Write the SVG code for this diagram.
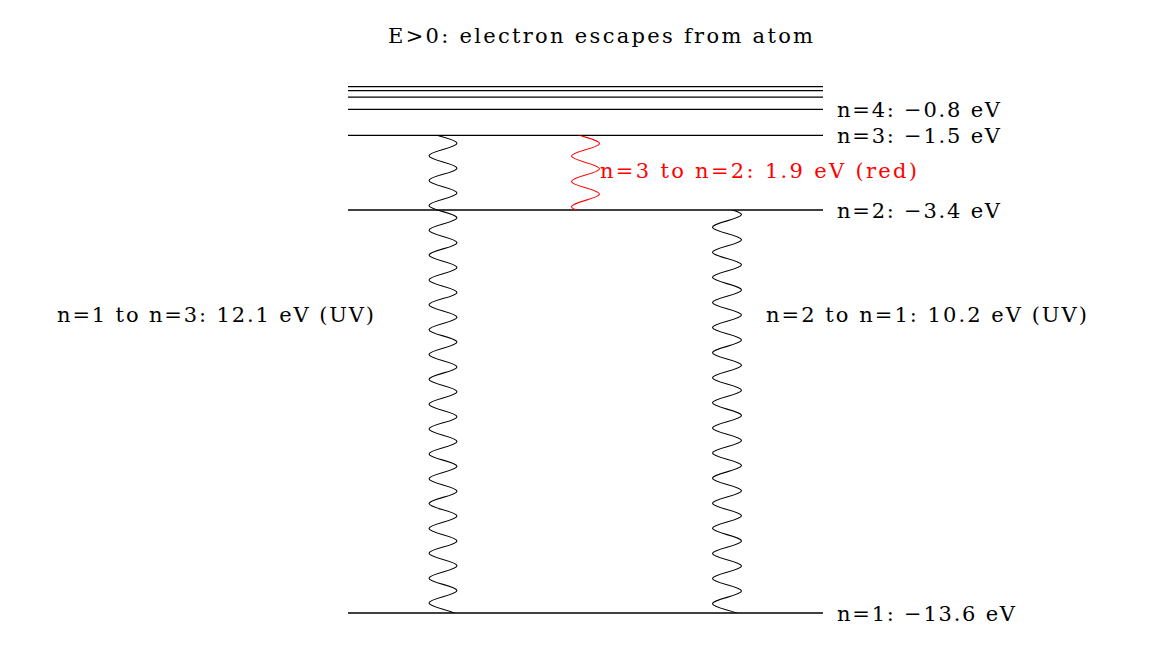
<svg xmlns="http://www.w3.org/2000/svg" width="1149" height="666" viewBox="0 0 1149 666">
<style>
.lvl{stroke:#000;stroke-width:1.3;fill:none}
.wave{fill:none;stroke-width:1.1}
text{font-family:"DejaVu Serif","Liberation Serif",serif;font-size:21px;fill:#000}
.red{fill:#ff0000}
</style>
<defs>
<clipPath id="c13"><rect x="0" y="135.4" width="1149" height="477.6"/></clipPath>
<clipPath id="c21"><rect x="0" y="210" width="1149" height="403"/></clipPath>
<clipPath id="c32"><rect x="0" y="135.4" width="1149" height="74.6"/></clipPath>
</defs>
<rect width="1149" height="666" fill="#fff"/>
<g id="title"><text x="388" y="43" textLength="425" lengthAdjust="spacing">E&gt;0: electron escapes from atom</text></g>
<g id="levels">
<line class="lvl" x1="348" y1="86.7" x2="823" y2="86.7"/>
<line class="lvl" x1="348" y1="90.7" x2="823" y2="90.7"/>
<line class="lvl" x1="348" y1="97.2" x2="823" y2="97.2"/>
</g>
<g id="n4"><line class="lvl" x1="348" y1="109.3" x2="823" y2="109.3"/><text x="837" y="117" textLength="163" lengthAdjust="spacing">n=4: −0.8 eV</text></g>
<g id="n3"><line class="lvl" x1="348" y1="135.4" x2="823" y2="135.4"/><text x="837" y="143" textLength="163" lengthAdjust="spacing">n=3: −1.5 eV</text></g>
<g id="n2"><line class="lvl" x1="348" y1="210" x2="823" y2="210"/><text x="837" y="218" textLength="163" lengthAdjust="spacing">n=2: −3.4 eV</text></g>
<g id="n1"><line class="lvl" x1="348" y1="613" x2="823" y2="613"/><text x="837" y="621" textLength="178" lengthAdjust="spacing">n=1: −13.6 eV</text></g>
<g id="connectors">
<g id="t13" clip-path="url(#c13)">
<path class="wave" stroke="#000" d="M443 112.22c18.667 5.273 18.667 7.152 0 12.425c-18.667 5.273-18.667 7.152 0 12.425c18.667 5.273 18.667 7.152 0 12.425c-18.667 5.273-18.667 7.152 0 12.425c18.667 5.273 18.667 7.152 0 12.425c-18.667 5.273-18.667 7.152 0 12.425c18.667 5.273 18.667 7.152 0 12.425c-18.667 5.273-18.667 7.152 0 12.425c18.667 5.273 18.667 7.152 0 12.425c-18.667 5.273-18.667 7.152 0 12.425c18.667 5.273 18.667 7.152 0 12.425c-18.667 5.273-18.667 7.152 0 12.425c18.667 5.273 18.667 7.152 0 12.425c-18.667 5.273-18.667 7.152 0 12.425c18.667 5.273 18.667 7.152 0 12.425c-18.667 5.273-18.667 7.152 0 12.425c18.667 5.273 18.667 7.152 0 12.425c-18.667 5.273-18.667 7.152 0 12.425c18.667 5.273 18.667 7.152 0 12.425c-18.667 5.273-18.667 7.152 0 12.425c18.667 5.273 18.667 7.152 0 12.425c-18.667 5.273-18.667 7.152 0 12.425c18.667 5.273 18.667 7.152 0 12.425c-18.667 5.273-18.667 7.152 0 12.425c18.667 5.273 18.667 7.152 0 12.425c-18.667 5.273-18.667 7.152 0 12.425c18.667 5.273 18.667 7.152 0 12.425c-18.667 5.273-18.667 7.152 0 12.425c18.667 5.273 18.667 7.152 0 12.425c-18.667 5.273-18.667 7.152 0 12.425c18.667 5.273 18.667 7.152 0 12.425c-18.667 5.273-18.667 7.152 0 12.425c18.667 5.273 18.667 7.152 0 12.425c-18.667 5.273-18.667 7.152 0 12.425c18.667 5.273 18.667 7.152 0 12.425c-18.667 5.273-18.667 7.152 0 12.425c18.667 5.273 18.667 7.152 0 12.425c-18.667 5.273-18.667 7.152 0 12.425c18.667 5.273 18.667 7.152 0 12.425c-18.667 5.273-18.667 7.152 0 12.425c18.667 5.273 18.667 7.152 0 12.425c-18.667 5.273-18.667 7.152 0 12.425"/>
</g>
<g id="t21" clip-path="url(#c21)">
<path class="wave" stroke="#000" d="M727 208.32c19.333 5.326 19.333 7.224 0 12.55c-19.333 5.326-19.333 7.224 0 12.55c19.333 5.326 19.333 7.224 0 12.55c-19.333 5.326-19.333 7.224 0 12.55c19.333 5.326 19.333 7.224 0 12.55c-19.333 5.326-19.333 7.224 0 12.55c19.333 5.326 19.333 7.224 0 12.55c-19.333 5.326-19.333 7.224 0 12.55c19.333 5.326 19.333 7.224 0 12.55c-19.333 5.326-19.333 7.224 0 12.55c19.333 5.326 19.333 7.224 0 12.55c-19.333 5.326-19.333 7.224 0 12.55c19.333 5.326 19.333 7.224 0 12.55c-19.333 5.326-19.333 7.224 0 12.55c19.333 5.326 19.333 7.224 0 12.55c-19.333 5.326-19.333 7.224 0 12.55c19.333 5.326 19.333 7.224 0 12.55c-19.333 5.326-19.333 7.224 0 12.55c19.333 5.326 19.333 7.224 0 12.55c-19.333 5.326-19.333 7.224 0 12.55c19.333 5.326 19.333 7.224 0 12.55c-19.333 5.326-19.333 7.224 0 12.55c19.333 5.326 19.333 7.224 0 12.55c-19.333 5.326-19.333 7.224 0 12.55c19.333 5.326 19.333 7.224 0 12.55c-19.333 5.326-19.333 7.224 0 12.55c19.333 5.326 19.333 7.224 0 12.55c-19.333 5.326-19.333 7.224 0 12.55c19.333 5.326 19.333 7.224 0 12.55c-19.333 5.326-19.333 7.224 0 12.55c19.333 5.326 19.333 7.224 0 12.55c-19.333 5.326-19.333 7.224 0 12.55c19.333 5.326 19.333 7.224 0 12.55c-19.333 5.326-19.333 7.224 0 12.55"/>
</g>
<g id="t32" clip-path="url(#c32)">
<path class="wave" stroke="#ff0000" d="M585.5 111.83c18.667 5.369 18.667 7.281 0 12.65c-18.667 5.369-18.667 7.281 0 12.65c18.667 5.369 18.667 7.281 0 12.65c-18.667 5.369-18.667 7.281 0 12.65c18.667 5.369 18.667 7.281 0 12.65c-18.667 5.369-18.667 7.281 0 12.65c18.667 5.369 18.667 7.281 0 12.65c-18.667 5.369-18.667 7.281 0 12.65"/>
</g>
</g>
<g id="label13"><text x="57" y="322" textLength="317" lengthAdjust="spacing">n=1 to n=3: 12.1 eV (UV)</text></g>
<g id="label21"><text x="766" y="322" textLength="321" lengthAdjust="spacing">n=2 to n=1: 10.2 eV (UV)</text></g>
<g id="label32"><text class="red" x="600" y="178" textLength="317" lengthAdjust="spacing">n=3 to n=2: 1.9 eV (red)</text></g>
</svg>
